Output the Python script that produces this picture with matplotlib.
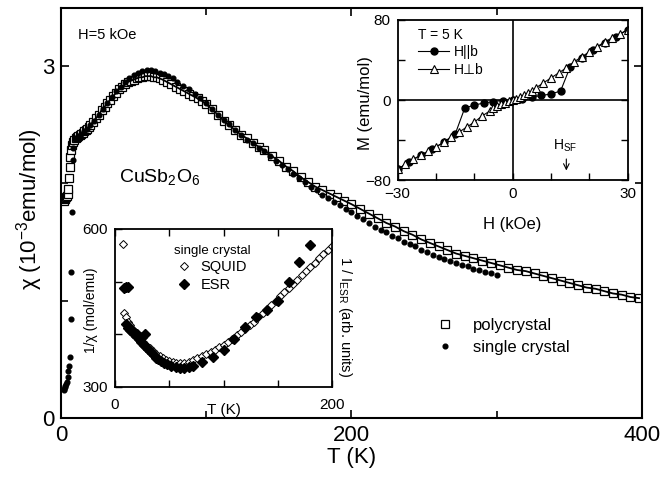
import numpy as np
import matplotlib
matplotlib.use('Agg')
import matplotlib.pyplot as plt

plt.rcParams['font.family'] = ['Liberation Sans', 'DejaVu Sans']
plt.rcParams['mathtext.fontset'] = 'custom'
plt.rcParams['mathtext.rm'] = 'Liberation Sans'
plt.rcParams['mathtext.it'] = 'Liberation Sans:italic'
plt.rcParams['mathtext.bf'] = 'Liberation Sans:bold'

# main panel: chi(T), 10^-3 emu/mol
poly_T = [2, 2.5, 3, 3.5, 4, 4.5, 5, 5.5, 6, 6.5, 7, 7.5, 8, 9, 10, 11, 12, 13, 14, 15,
          16, 17, 18, 19, 20, 22, 24, 26, 28, 30, 32, 34, 36, 38, 40, 42, 44, 46, 48, 50,
          52, 54, 56, 58, 60, 62, 64, 66, 68, 70, 73, 76, 79, 82, 85, 88, 91, 94, 97, 100,
          104, 108, 112, 116, 120, 124, 128, 132, 136, 140, 145, 150, 155, 160, 165, 170,
          175, 180, 185, 190, 195, 200, 206, 212, 218, 224, 230, 236, 242, 248, 254, 260,
          266, 272, 278, 284, 290, 296, 302, 308, 314, 320, 326, 332, 338, 344, 350, 356,
          362, 368, 374, 380, 386, 392, 398]
poly_chi = [1.85, 1.86, 1.87, 1.88, 1.89, 1.91, 1.95, 2.04, 2.14, 2.22, 2.28, 2.32, 2.35, 2.37,
            2.38, 2.39, 2.40, 2.41, 2.42, 2.43, 2.44, 2.45, 2.46, 2.48, 2.49, 2.52, 2.55, 2.58,
            2.62, 2.65, 2.68, 2.71, 2.74, 2.77, 2.80, 2.82, 2.84, 2.86, 2.87, 2.88, 2.89, 2.90,
            2.90, 2.91, 2.91, 2.91, 2.90, 2.90, 2.89, 2.88, 2.86, 2.84, 2.82, 2.80, 2.78, 2.76,
            2.74, 2.72, 2.70, 2.67, 2.63, 2.58, 2.53, 2.49, 2.45, 2.41, 2.38, 2.34, 2.31, 2.28,
            2.23, 2.19, 2.14, 2.10, 2.05, 2.01, 1.97, 1.94, 1.91, 1.88, 1.85, 1.82, 1.78, 1.74,
            1.70, 1.66, 1.63, 1.59, 1.56, 1.52, 1.49, 1.46, 1.43, 1.40, 1.38, 1.36, 1.34, 1.32,
            1.30, 1.28, 1.26, 1.25, 1.23, 1.21, 1.19, 1.17, 1.15, 1.13, 1.11, 1.10, 1.08, 1.06,
            1.05, 1.03, 1.02]

sc_T = [1.8, 2, 2.5, 3, 3.5, 4, 4.5, 5, 5.2, 6.5, 7.0, 7.2, 7.5, 8, 8.5, 10, 12, 14, 16, 18,
        20, 23, 26, 29, 32, 35, 38, 41, 44, 47, 50, 53, 56, 59, 62, 65, 68, 71, 74, 77, 80,
        84, 88, 92, 96, 100, 104, 108, 112, 116, 120, 124, 128, 132, 136, 140, 144, 148, 152,
        156, 160, 164, 168, 172, 176, 180, 184, 188, 192, 196, 200, 204, 208, 212, 216, 220,
        224, 228, 232, 236, 240, 244, 248, 252, 256, 260, 264, 268, 272, 276, 280, 284, 288,
        292, 296, 300]
sc_chi = [0.24, 0.25, 0.26, 0.27, 0.29, 0.31, 0.35, 0.40, 0.44, 0.52, 0.84, 1.24, 1.75, 2.20,
          2.30, 2.38, 2.40, 2.42, 2.44, 2.46, 2.49, 2.53, 2.58, 2.63, 2.68, 2.73, 2.78, 2.82,
          2.86, 2.89, 2.92, 2.94, 2.95, 2.96, 2.96, 2.95, 2.94, 2.93, 2.91, 2.89, 2.86, 2.83,
          2.80, 2.76, 2.72, 2.68, 2.63, 2.58, 2.54, 2.50, 2.45, 2.41, 2.37, 2.34, 2.30, 2.27,
          2.23, 2.19, 2.15, 2.12, 2.08, 2.04, 2.01, 1.97, 1.94, 1.90, 1.87, 1.84, 1.81, 1.78,
          1.75, 1.72, 1.69, 1.66, 1.63, 1.60, 1.58, 1.55, 1.53, 1.50, 1.48, 1.46, 1.43, 1.41,
          1.39, 1.37, 1.35, 1.34, 1.32, 1.30, 1.29, 1.27, 1.26, 1.24, 1.23, 1.22]

# lower inset: 1/chi (SQUID) and 1/I_ESR vs T
squid_T = [7, 8, 10, 12, 14, 16, 18, 20, 23, 26, 29, 32, 35, 38, 41, 44, 47, 50, 53, 56, 60,
           64, 68, 72, 76, 80, 84, 88, 92, 96, 100, 104, 108, 112, 116, 120, 124, 128, 132,
           136, 140, 144, 148, 152, 156, 160, 164, 168, 172, 176, 180, 184, 188, 192, 196, 200]
squid_inv = [571, 440, 432, 424, 417, 411, 405, 400, 393, 386, 380, 374, 368, 363, 359, 355,
             352, 349, 347, 346, 345, 346, 348, 351, 355, 359, 363, 367, 371, 375, 380, 386,
             392, 398, 404, 410, 417, 424, 432, 440, 448, 456, 464, 472, 480, 488, 496, 504,
             512, 520, 528, 536, 544, 552, 560, 568]
esr_T = [8, 10, 12, 10, 12, 14, 15, 17, 19, 20, 22, 24, 25, 27, 28, 29, 30, 32, 34, 36, 38,
         40, 42, 45, 48, 52, 56, 60, 64, 68, 72, 80, 90, 100, 110, 120, 130, 140, 150, 160,
         170, 180]
esr_inv = [488, 489, 490, 420, 412, 408, 410, 402, 396, 400, 392, 385, 395, 380, 400, 376,
           372, 368, 364, 360, 356, 353, 350, 346, 343, 340, 338, 337, 337, 338, 339, 348, 357,
           371, 392, 414, 433, 446, 463, 500, 537, 570]

# upper inset: M(H) at 5 K
H_perp = [-30, -28, -26, -24, -22, -20, -18, -16, -14, -12, -10, -8, -6, -5, -4, -3, -2, -1,
          0, 1, 2, 3, 4, 5, 6, 8, 10, 12, 14, 16, 18, 20, 22, 24, 26, 28, 30]
M_perp = [-69, -64, -59, -55, -51, -47, -42, -37, -32, -27, -22, -16, -11, -8, -6, -4, -3,
          -1, 0, 1, 3, 5, 7, 9, 12, 17, 22, 27, 32, 38, 43, 48, 53, 58, 62, 66, 70]
H_par = [-30, -27, -24, -21, -18, -15, -12.5, -10, -7.5, -5, -2.5, 0, 2.5, 5, 7.5, 10, 12.5,
         15, 18, 21, 24, 27, 30]
M_par = [-69, -62, -55, -49, -42, -34, -8, -5, -3, -1.5, -0.5, 0, 1.5, 3, 4.5, 6, 9, 33, 42,
         50, 57, 63, 70]

fig = plt.figure(figsize=(6.63, 4.82), dpi=100)

# main panel
ax = fig.add_axes([0.0920, 0.1328, 0.8763, 0.8506])
ax.plot(poly_T, poly_chi, 's', ms=5.3, mfc='white', mec='black', mew=0.9,
        label='polycrystal')
ax.plot(sc_T, sc_chi, 'o', ms=3.4, color='black', mec='black', label='single crystal')
pT = np.array(poly_T)
pc = np.array(poly_chi)
ax.plot(pT[pT >= 20], pc[pT >= 20], '-', color='black', lw=1.3)

ax.set_xlim(0, 400)
ax.set_ylim(0, 3.49)
ax.set_xticks([0, 200, 400])
ax.set_xticks([100, 300], minor=True)
ax.set_yticks([0, 3])
ax.set_yticks([1, 2], minor=True)
ax.tick_params(which='both', direction='in', top=True, right=True, width=1.2,
               labelsize=16, pad=5)
ax.tick_params(which='major', length=6)
ax.tick_params(which='minor', length=5)
for s in ax.spines.values():
    s.set_linewidth(1.5)
ax.set_xlabel('T (K)', fontsize=16)
ax.xaxis.set_label_coords(0.5, -0.07)
ax.set_ylabel('χ (10$^{-3}$emu/mol)', fontsize=16)
ax.yaxis.set_label_coords(-0.027, 0.51)

ax.text(0.029, 0.934, 'H=5 kOe', transform=ax.transAxes, fontsize=10.5, va='center')
ax.text(0.1, 0.588, 'CuSb$_2$O$_6$', transform=ax.transAxes, fontsize=14, va='center')
ax.legend(loc='upper left', bbox_to_anchor=(0.6467, 0.245), frameon=False, fontsize=12,
          handlelength=1, handletextpad=1.2, labelspacing=0.45, borderpad=0,
          borderaxespad=0, markerscale=1.0)

# lower inset
ax1 = fig.add_axes([0.1735, 0.1971, 0.3273, 0.3278])
ax1.plot(squid_T, squid_inv, 'D', ms=3.6, mfc='white', mec='black', mew=0.7,
         label='SQUID')
ax1.plot(esr_T, esr_inv, 'D', ms=4.6, color='black', label='ESR')
ax1.set_xlim(0, 200)
ax1.set_ylim(300, 600)
ax1.set_xticks([0, 200])
ax1.set_xticks([50, 100, 150], minor=True)
ax1.set_yticks([300, 600])
ax1.set_yticks([400, 500], minor=True)
ax1.tick_params(which='both', direction='in', top=True, width=1, labelsize=11)
ax1.tick_params(axis='x', pad=8)
ax1.tick_params(axis='y', pad=5)
ax1.tick_params(which='major', length=5)
ax1.tick_params(which='minor', length=5)
for s in ax1.spines.values():
    s.set_linewidth(1.3)
ax1.text(0.5, -0.146, 'T (K)', transform=ax1.transAxes, fontsize=11,
         ha='center', va='center')
ax1.text(-0.11, 0.487, '1/χ (mol/emu)', transform=ax1.transAxes, fontsize=10,
         rotation=90, ha='center', va='center')
ax1.text(1.06, 0.443, '1 / I$_{\\rm ESR}$ (arb. units)', transform=ax1.transAxes,
         fontsize=10.5, rotation=270, ha='center', va='center')
ax1.legend(loc='upper left', bbox_to_anchor=(0.27, 0.9), frameon=False, fontsize=10.5,
           title='single crystal', title_fontsize=9.5, handlelength=1, handletextpad=0.66,
           labelspacing=0.25, borderpad=0, borderaxespad=0)

# upper inset
ax2 = fig.add_axes([0.5998, 0.6259, 0.3469, 0.3332])
ax2.axhline(0, color='black', lw=1.2)
ax2.axvline(0, color='black', lw=1.2)
ax2.plot(H_par, M_par, '-o', color='black', ms=5, lw=0.8, label='H||b')
ax2.plot(H_perp, M_perp, '-^', color='black', mfc='white', mew=0.8, ms=5.5, lw=0.8,
         label='H⊥b')
ax2.set_xlim(-30, 30)
ax2.set_ylim(-80, 80)
ax2.set_xticks([-30, 0, 30])
ax2.set_xticks([-20, -10, 10, 20], minor=True)
ax2.set_yticks([-80, 0, 80])
ax2.set_yticks([-40, 40], minor=True)
ax2.tick_params(which='both', direction='in', right=True, width=1, labelsize=11,
                length=5, pad=5)
for s in ax2.spines.values():
    s.set_linewidth(1.3)
ax2.text(0.5, -0.278, 'H (kOe)', transform=ax2.transAxes, fontsize=12,
         ha='center', va='center')
ax2.text(-0.142, 0.48, 'M (emu/mol)', transform=ax2.transAxes, fontsize=12,
         rotation=90, ha='center', va='center')
ax2.annotate('', xy=(14, -73), xytext=(14, -56),
             arrowprops=dict(arrowstyle='->', lw=0.8, color='black'))
ax2.text(13.6, -46, 'H$_{\\rm SF}$', fontsize=10, ha='center', va='center')
leg2 = ax2.legend(loc='upper left', bbox_to_anchor=(0.09, 0.95), frameon=False,
                  fontsize=10, title='T = 5 K', title_fontsize=10, handlelength=2.2,
                  handletextpad=0.35, labelspacing=0.25, borderpad=0, borderaxespad=0,
                  alignment='left')

fig.savefig('out.png', dpi=100)
